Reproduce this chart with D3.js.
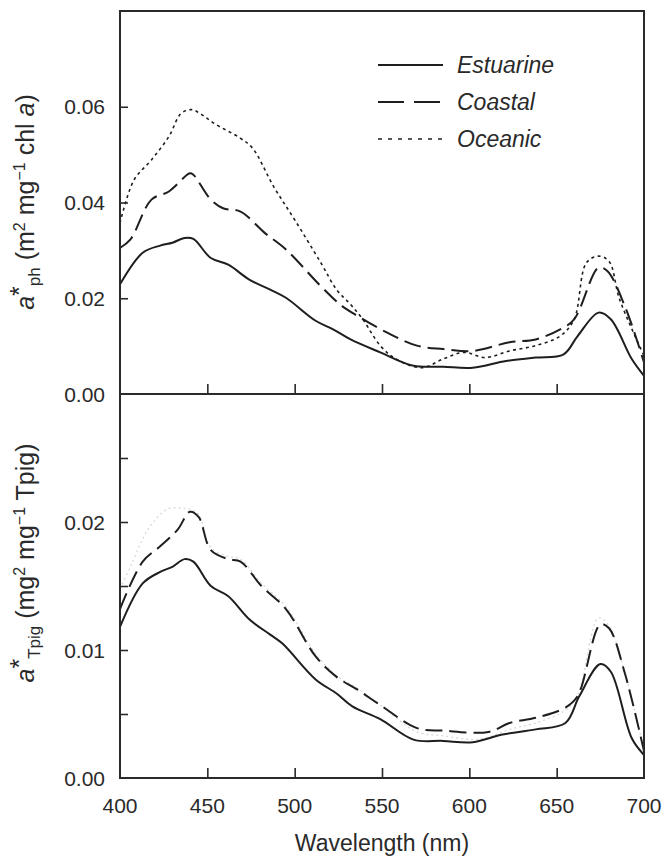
<!DOCTYPE html>
<html>
<head>
<meta charset="utf-8">
<script src="https://cdn.jsdelivr.net/npm/d3@7"></script>
<style>
  body { margin: 0; background: #fff; }
  text { font-family: "Liberation Sans", Arial, sans-serif; fill: #2a2a2a; }
</style>
</head>
<body>
<script>
"use strict";

// wavelength (nm) and absorption values
const estTopWl = [400, 413, 423, 430, 437, 442, 452, 462, 474, 486, 495, 512, 522, 532, 549, 568, 585, 602, 621, 638, 654, 662, 674, 681, 693, 700];
const estTopVal = [0.0229, 0.0295, 0.031, 0.0316, 0.0326, 0.0324, 0.0284, 0.027, 0.0239, 0.0218, 0.0201, 0.0153, 0.0135, 0.0114, 0.0087, 0.0059, 0.0057, 0.0055, 0.0069, 0.0076, 0.0083, 0.0121, 0.017, 0.0156, 0.0073, 0.0038];

const coaTopWl = [400, 406, 418, 428, 440, 442, 452, 459, 469, 483, 495, 515, 527, 536, 553, 570, 585, 602, 623, 638, 652, 660, 674, 679, 689, 700];
const coaTopVal = [0.0305, 0.0323, 0.0406, 0.0423, 0.0461, 0.0458, 0.0406, 0.0388, 0.0381, 0.0336, 0.0302, 0.0225, 0.0184, 0.0163, 0.0128, 0.0101, 0.0094, 0.009, 0.0108, 0.0114, 0.0135, 0.0156, 0.0264, 0.0257, 0.0184, 0.0066];

const ocnTopWl = [400, 408, 418, 428, 435, 441, 447, 454, 469, 476, 488, 500, 515, 524, 532, 539, 549, 558, 573, 585, 597, 609, 623, 638, 652, 660, 667, 674, 680, 686, 700];
const ocnTopVal = [0.0357, 0.0447, 0.0489, 0.0538, 0.0586, 0.0594, 0.0583, 0.0565, 0.0534, 0.0513, 0.0433, 0.0364, 0.0274, 0.0218, 0.0187, 0.0156, 0.0101, 0.0073, 0.0055, 0.0073, 0.0087, 0.0076, 0.009, 0.0101, 0.0121, 0.0156, 0.0274, 0.0288, 0.0277, 0.0198, 0.008];

const estBotWl = [400, 413, 423, 430, 437, 442, 452, 462, 474, 486, 493, 512, 524, 533, 549, 568, 585, 602, 619, 638, 655, 663, 675, 681, 693, 700];
const estBotVal = [0.0118, 0.0152, 0.0161, 0.0165, 0.0171, 0.0169, 0.015, 0.0142, 0.0124, 0.0112, 0.0105, 0.0077, 0.0066, 0.0056, 0.0046, 0.003, 0.0029, 0.0028, 0.0034, 0.0038, 0.0043, 0.0064, 0.0089, 0.0083, 0.0031, 0.0018];

const coaBotWl = [400, 413, 423, 433, 440, 445, 452, 462, 469, 481, 495, 512, 524, 536, 549, 570, 585, 611, 623, 638, 655, 662, 675, 680, 689, 700];
const coaBotVal = [0.0132, 0.0169, 0.0181, 0.0194, 0.0208, 0.0204, 0.0178, 0.0171, 0.0169, 0.015, 0.0132, 0.0095, 0.0079, 0.0069, 0.0057, 0.0039, 0.0037, 0.0036, 0.0043, 0.0047, 0.0055, 0.0064, 0.012, 0.0117, 0.0082, 0.0021];

const ocnBotWl = [400, 406, 412, 418, 427, 434, 440, 445, 452, 462, 469, 481, 495, 512, 524, 536, 549, 570, 585, 602, 611, 623, 638, 655, 662, 674, 680, 689, 700];
const ocnBotVal = [0.0148, 0.0165, 0.0184, 0.0198, 0.021, 0.0211, 0.021, 0.0206, 0.018, 0.0173, 0.0171, 0.0152, 0.0134, 0.0097, 0.008, 0.007, 0.0057, 0.0036, 0.0033, 0.003, 0.0032, 0.0038, 0.0043, 0.0053, 0.0065, 0.0125, 0.0119, 0.0082, 0.0022];

const seriesNames = ["Estuarine", "Coastal", "Oceanic"];
const xTicks = [400, 450, 500, 550, 600, 650, 700];
const topTicks = [0.00, 0.02, 0.04, 0.06];
const botTicks = [0.00, 0.005, 0.01, 0.015, 0.02, 0.025];
const botLabels = [0.00, 0.01, 0.02];

(function() {

  const width = 662, height = 864;
  const left = 120, right = 644;
  const topY0 = 11, mid = 394, botY1 = 778;

  const styles = {
    "Estuarine": { dash: null, legendDash: null, color: "#1e1e1e", w: 2 },
    "Coastal": { dash: "17,7", legendDash: "26,10", color: "#1e1e1e", w: 2 },
    "Oceanic": { dash: "3,3.5", legendDash: "4,6", color: "#1e1e1e", w: 1.6 }
  };

  const svg = d3.select("body").append("svg")
    .attr("width", width)
    .attr("height", height);

  const x = d3.scaleLinear().domain([400, 700]).range([left, right]);
  const yTop = d3.scaleLinear().domain([0, 0.08]).range([mid, topY0]);
  const yBot = d3.scaleLinear().domain([0, 0.03]).range([botY1, mid]);

  function zip(wl, val) {
    return wl.map((w, i) => ({ wl: w, v: val[i] }));
  }

  function drawLines(scaleY, sets, faintOceanic) {
    const line = d3.line()
      .x(d => x(d.wl))
      .y(d => scaleY(d.v))
      .curve(d3.curveCatmullRom.alpha(0.5));
    sets.forEach(function(s) {
      const st = styles[s.name];
      const faint = faintOceanic && s.name === "Oceanic";
      svg.append("path")
        .datum(zip(s.wl, s.val))
        .attr("d", line)
        .attr("fill", "none")
        .attr("stroke", faint ? "#d6d6d6" : st.color)
        .attr("stroke-width", faint ? 1.2 : st.w)
        .attr("stroke-linejoin", "round")
        .attr("stroke-dasharray", faint ? "2,3" : st.dash);
    });
  }

  // oceanic drawn first so the others sit on top
  drawLines(yTop, [
    { name: "Oceanic", wl: ocnTopWl, val: ocnTopVal },
    { name: "Coastal", wl: coaTopWl, val: coaTopVal },
    { name: "Estuarine", wl: estTopWl, val: estTopVal }
  ], false);

  drawLines(yBot, [
    { name: "Oceanic", wl: ocnBotWl, val: ocnBotVal },
    { name: "Coastal", wl: coaBotWl, val: coaBotVal },
    { name: "Estuarine", wl: estBotWl, val: estBotVal }
  ], true);

  // axes: ticks point inward
  function fmt(d) { return d3.format(".2f")(d); }

  const axTop = svg.append("g")
    .attr("transform", "translate(" + left + ",0)")
    .call(d3.axisRight(yTop).tickValues(topTicks.slice(1)).tickSize(8).tickFormat(""));
  const axBot = svg.append("g")
    .attr("transform", "translate(" + left + ",0)")
    .call(d3.axisRight(yBot).tickValues(botTicks.slice(1)).tickSize(8).tickFormat(""));
  const axXTop = svg.append("g")
    .attr("transform", "translate(0," + mid + ")")
    .call(d3.axisTop(x).tickValues(xTicks.slice(1, -1)).tickSize(10).tickFormat(""));
  const axXBot = svg.append("g")
    .attr("transform", "translate(0," + botY1 + ")")
    .call(d3.axisTop(x).tickValues(xTicks.slice(1, -1)).tickSize(10).tickFormat(""));

  [axTop, axBot, axXTop, axXBot].forEach(function(a) {
    a.select(".domain").remove();
    a.selectAll("line").attr("stroke", "#2a2a2a").attr("stroke-width", 1.6);
  });

  // frames
  svg.append("rect")
    .attr("x", left).attr("y", topY0)
    .attr("width", right - left).attr("height", botY1 - topY0)
    .attr("fill", "none").attr("stroke", "#2a2a2a").attr("stroke-width", 2);
  svg.append("line")
    .attr("x1", left).attr("x2", right)
    .attr("y1", mid).attr("y2", mid)
    .attr("stroke", "#2a2a2a").attr("stroke-width", 2);

  // tick labels
  svg.selectAll(".ytl-top")
    .data(topTicks)
    .enter().append("text")
    .attr("x", 105)
    .attr("y", d => yTop(d))
    .attr("dy", "0.36em")
    .attr("text-anchor", "end")
    .style("font-size", "21px")
    .text(fmt);

  svg.selectAll(".ytl-bot")
    .data(botLabels)
    .enter().append("text")
    .attr("x", 105)
    .attr("y", d => yBot(d))
    .attr("dy", "0.36em")
    .attr("text-anchor", "end")
    .style("font-size", "21px")
    .text(fmt);

  svg.selectAll(".xtl")
    .data(xTicks)
    .enter().append("text")
    .attr("x", d => x(d))
    .attr("y", 813)
    .attr("text-anchor", "middle")
    .style("font-size", "21px")
    .text(d => d);

  // axis titles
  svg.append("text")
    .attr("x", (left + right) / 2)
    .attr("y", 851)
    .attr("text-anchor", "middle")
    .style("font-size", "23px")
    .text("Wavelength (nm)");

  const t1 = svg.append("text")
    .attr("transform", "translate(34,202) rotate(-90)")
    .attr("text-anchor", "middle")
    .style("font-size", "25px");
  t1.append("tspan").style("font-style", "italic").text("a");
  t1.append("tspan").attr("dy", -6).text("*");
  t1.append("tspan").attr("dy", 12).style("font-size", "17px").text("ph");
  t1.append("tspan").attr("dy", -6).text(" (m");
  t1.append("tspan").attr("dy", -9).style("font-size", "16px").text("2");
  t1.append("tspan").attr("dy", 9).text(" mg");
  t1.append("tspan").attr("dy", -9).style("font-size", "16px").text("\u22121");
  t1.append("tspan").attr("dy", 9).text(" chl ");
  t1.append("tspan").style("font-style", "italic").text("a");
  t1.append("tspan").text(")");

  const t2 = svg.append("text")
    .attr("transform", "translate(34,563) rotate(-90)")
    .attr("text-anchor", "middle")
    .style("font-size", "25px");
  t2.append("tspan").style("font-style", "italic").text("a");
  t2.append("tspan").attr("dy", -6).text("*");
  t2.append("tspan").attr("dy", 12).style("font-size", "17px").text("Tpig");
  t2.append("tspan").attr("dy", -6).text(" (mg");
  t2.append("tspan").attr("dy", -9).style("font-size", "16px").text("2");
  t2.append("tspan").attr("dy", 9).text(" mg");
  t2.append("tspan").attr("dy", -9).style("font-size", "16px").text("\u22121");
  t2.append("tspan").attr("dy", 9).text(" Tpig)");

  // legend
  const legY = d3.scalePoint().domain(seriesNames).range([65, 139]);
  const leg = svg.selectAll(".leg")
    .data(seriesNames)
    .enter().append("g")
    .attr("transform", d => "translate(0," + legY(d) + ")");
  leg.append("line")
    .attr("x1", 378).attr("x2", 443)
    .attr("stroke", d => styles[d].color)
    .attr("stroke-width", d => styles[d].w)
    .attr("stroke-dasharray", d => styles[d].legendDash);
  leg.append("text")
    .attr("x", 457)
    .attr("dy", "0.36em")
    .style("font-size", "23px")
    .style("font-style", "italic")
    .text(d => d);

})();
</script>
</body>
</html>
